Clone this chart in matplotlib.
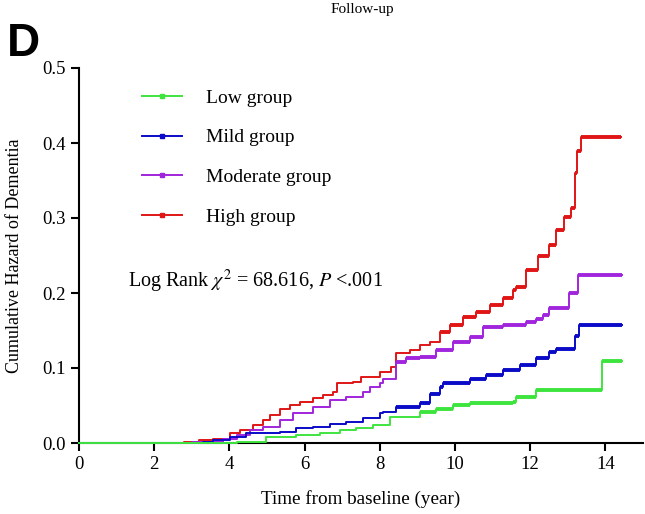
import matplotlib
matplotlib.use("Agg")
import matplotlib.pyplot as plt
from matplotlib.lines import Line2D

plt.rcParams['font.family'] = ['Liberation Serif', 'DejaVu Serif']
plt.rcParams['mathtext.fontset'] = 'stix'

# cumulative hazard step curves
low_t = [0, 4.2, 4.98, 5.78, 6.4, 6.93, 7.38, 7.82, 8.26, 9.06, 9.5, 9.94, 10.39, 11.54, 11.63, 12.16, 13.9, 14.45]
low_v = [0, 0.001, 0.008, 0.011, 0.013, 0.017, 0.02, 0.024, 0.035, 0.042, 0.046, 0.051, 0.053, 0.055, 0.062, 0.071, 0.109, 0.109]

mild_t = [0, 3.3, 3.57, 4.01, 4.45, 5.34, 5.78, 6.22, 6.67, 7.11, 7.55, 8.0, 8.08, 8.44, 9.06, 9.33, 9.59, 9.68,
          10.39, 10.83, 11.27, 11.72, 12.16, 12.51, 12.69, 13.2, 13.3, 14.45]
mild_v = [0, 0.002, 0.004, 0.008, 0.013, 0.015, 0.02, 0.022, 0.026, 0.028, 0.033, 0.04, 0.042, 0.048, 0.053, 0.066, 0.075, 0.08,
          0.086, 0.091, 0.097, 0.104, 0.113, 0.122, 0.126, 0.143, 0.157, 0.157]

mod_t = [0, 3.0, 3.83, 4.19, 4.54, 4.9, 5.34, 5.69, 6.22, 6.67, 7.11, 7.55, 7.73, 8.0, 8.08, 8.44, 8.71, 9.06, 9.5,
         9.94, 10.39, 10.74, 11.27, 11.9, 12.16, 12.34, 12.51, 13.04, 13.27, 14.45]
mod_v = [0, 0.002, 0.006, 0.011, 0.017, 0.022, 0.031, 0.04, 0.048, 0.057, 0.062, 0.068, 0.075, 0.08, 0.086, 0.108, 0.113, 0.115, 0.124,
         0.135, 0.142, 0.155, 0.157, 0.162, 0.165, 0.171, 0.18, 0.2, 0.224, 0.224]

high_t = [0, 2.8, 3.2, 3.57, 4.01, 4.28, 4.63, 4.9, 5.07, 5.34, 5.61, 5.87, 6.22, 6.49, 6.76, 6.85, 7.29, 7.51, 8.0, 8.3,
          8.44, 8.79, 9.06, 9.33, 9.59, 9.86, 10.21, 10.57, 10.92, 11.27, 11.54, 11.63, 11.9, 12.2, 12.51, 12.69, 12.91,
          13.09, 13.18, 13.25, 13.35, 14.42]
high_v = [0, 0.001, 0.004, 0.006, 0.013, 0.017, 0.024, 0.031, 0.037, 0.046, 0.051, 0.055, 0.06, 0.064, 0.068, 0.08, 0.082, 0.088, 0.095, 0.102,
          0.12, 0.124, 0.131, 0.135, 0.148, 0.157, 0.168, 0.175, 0.184, 0.193, 0.204, 0.208, 0.231, 0.25, 0.264, 0.284, 0.302,
          0.313, 0.36, 0.39, 0.408, 0.408]

labels = ["Low group", "Mild group", "Moderate group", "High group"]
colors = ["#3ee43e", "#0a0ac8", "#a025dc", "#e01515"]
series = [(low_t, low_v), (mild_t, mild_v), (mod_t, mod_v), (high_t, high_v)]
# where the censor ticks make the curves look heavy
thick_from = [9.0, 8.4, 8.4, 9.5]

fig = plt.figure(figsize=(6.45, 5.14), dpi=100)
ax = fig.add_axes([79/645, 1 - 443/514, (643 - 79)/645, (443 - 68)/514])

# draw high first so green sits on top near zero
for (t, v), c, tf in reversed(list(zip(series, colors, thick_from))):
    ax.step(t, v, where='post', color=c, lw=1.4, zorder=3, clip_on=False)
    for i in range(len(t) - 1):
        if t[i] >= tf:
            ax.hlines(v[i], t[i], t[i + 1], color=c, lw=2.8, zorder=3)

ax.set_xlim(0, 15)
ax.set_ylim(0, 0.5)
ax.set_xticks(range(0, 15, 2))
ax.set_yticks([0.0, 0.1, 0.2, 0.3, 0.4, 0.5])
ax.set_yticklabels(["0.0", "0.1", "0.2", "0.3", "0.4", "0.5"])
ax.spines['top'].set_visible(False)
ax.spines['right'].set_visible(False)
for s in ['left', 'bottom']:
    ax.spines[s].set_linewidth(1.5)
ax.tick_params(direction='out', length=6, width=1.5, labelsize=13.5)
ax.set_xlabel("Time from baseline (year)", fontsize=13.8, labelpad=12)
ax.set_ylabel("Cumulative Hazard of Dementia", fontsize=13, labelpad=14)

handles = [Line2D([0], [0], color=c, lw=1.4, marker='s', ms=2.5) for c in colors]
ax.legend(handles, labels, loc='upper left', bbox_to_anchor=(0.08, 0.99), frameon=False,
          fontsize=14, handlelength=2.1, handletextpad=1.2, labelspacing=1.13)

ax.text(1.3, 0.216, r"Log Rank $\chi^2$ = 68.616, $P$ <.001", fontsize=14.5, va='center', ha='left')

fig.text(7/645, 1 - 44/514, "D", fontsize=33, fontweight='bold', family='Liberation Sans', va='center', ha='left')
fig.text(362/645, 1 - 9/514, "Follow-up", fontsize=11, va='center', ha='center')

fig.savefig("out.png", dpi=100)
